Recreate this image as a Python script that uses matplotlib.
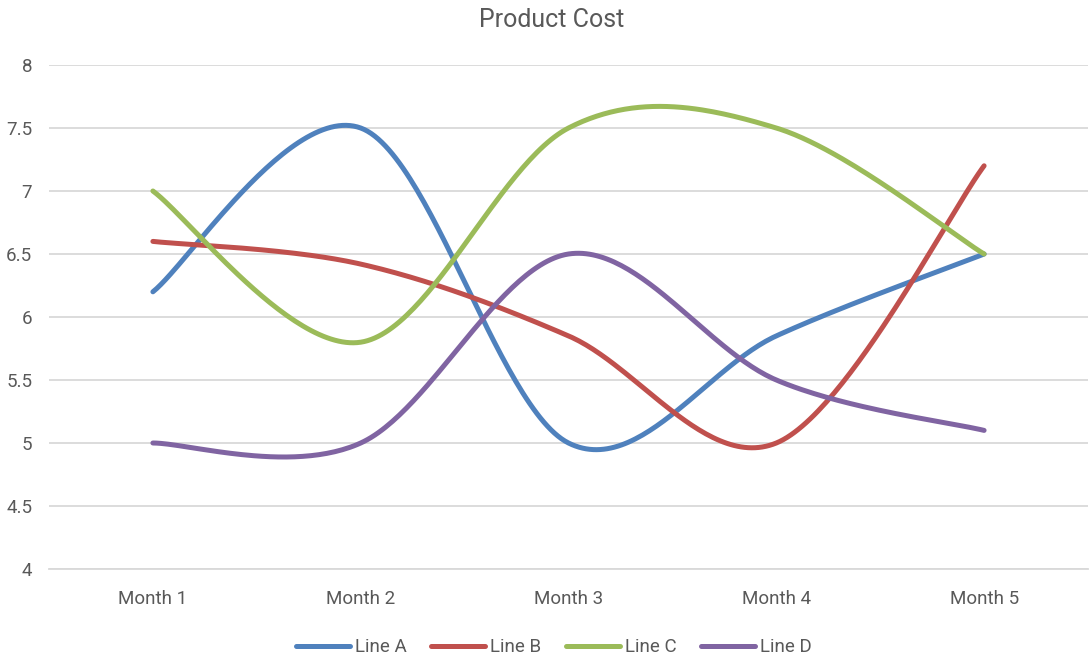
import numpy as np
import matplotlib
matplotlib.use("Agg")
import matplotlib.pyplot as plt
from matplotlib import font_manager

months = ["Month 1", "Month 2", "Month 3", "Month 4", "Month 5"]
line_a = [6.2, 7.5, 5.0, 5.85, 6.5]
line_b = [6.6, 6.42, 5.85, 5.0, 7.2]
line_c = [7.0, 5.8, 7.5, 7.5, 6.5]
line_d = [5.0, 5.0, 6.5, 5.5, 5.1]
series_names = ["Line A", "Line B", "Line C", "Line D"]
colors = ["#4f81bd", "#c0504d", "#9bbb59", "#8064a2"]

available = {f.name for f in font_manager.fontManager.ttflist}
family = next((f for f in ["Liberation Sans Narrow", "Roboto", "DejaVu Sans"] if f in available), "DejaVu Sans")
plt.rcParams["font.family"] = [family, "DejaVu Sans"]


def smooth(xs, ys, n=60):
    """Catmull-Rom spline through the points (endpoints duplicated)."""
    xs = np.asarray(xs, float)
    ys = np.asarray(ys, float)
    px = np.concatenate([[xs[0]], xs, [xs[-1]]])
    py = np.concatenate([[ys[0]], ys, [ys[-1]]])
    out_x, out_y = [], []
    t = np.linspace(0, 1, n)
    h00 = 2 * t**3 - 3 * t**2 + 1
    h10 = t**3 - 2 * t**2 + t
    h01 = -2 * t**3 + 3 * t**2
    h11 = t**3 - t**2
    for i in range(1, len(px) - 2):
        m1x = (px[i + 1] - px[i - 1]) / 2
        m2x = (px[i + 2] - px[i]) / 2
        m1y = (py[i + 1] - py[i - 1]) / 2
        m2y = (py[i + 2] - py[i]) / 2
        out_x.append(h00 * px[i] + h10 * m1x + h01 * px[i + 1] + h11 * m2x)
        out_y.append(h00 * py[i] + h10 * m1y + h01 * py[i + 1] + h11 * m2y)
    return np.concatenate(out_x), np.concatenate(out_y)


fig = plt.figure(figsize=(10.9, 6.59), dpi=100)
ax = fig.add_axes([49 / 1090, 1 - 569 / 659, (1088 - 49) / 1090, (569 - 65) / 659])

x = np.arange(1, len(months) + 1)
for name, vals, col in zip(series_names, [line_a, line_b, line_c, line_d], colors):
    sx, sy = smooth(x, vals)
    ax.plot(sx, sy, color=col, lw=3.6, solid_capstyle="round", solid_joinstyle="round",
            label=name, zorder=3)

ax.set_xlim(0.5, len(months) + 0.5)
ax.set_ylim(4, 8)
ax.set_yticks(np.arange(4, 8.01, 0.5))
ax.set_yticklabels(["4", "4.5", "5", "5.5", "6", "6.5", "7", "7.5", "8"])
ax.set_xticks(x)
ax.set_xticklabels(months)
ax.grid(axis="y", color="#d9d9d9", lw=1.3, zorder=0)
for s in ["top", "right", "left"]:
    ax.spines[s].set_visible(False)
ax.spines["bottom"].set_color("#d9d9d9")
ax.spines["bottom"].set_linewidth(1.3)
ax.tick_params(axis="both", length=0, labelsize=13.5, colors="#595959")
ax.tick_params(axis="y", pad=12)
ax.tick_params(axis="x", pad=15)

fig.text(0.506, 0.97, "Product Cost", ha="center", va="center", fontsize=18, color="#595959")

leg = fig.legend(loc="center", bbox_to_anchor=(0.508, 0.018), ncol=4, frameon=False,
                 fontsize=13.5, handlelength=2.9, handletextpad=0.25, columnspacing=1.3)
for t in leg.get_texts():
    t.set_color("#595959")
for h in leg.get_lines():
    h.set_linewidth(3.6)
    h.set_solid_capstyle("round")

fig.savefig("out.png", dpi=100, facecolor="white")
